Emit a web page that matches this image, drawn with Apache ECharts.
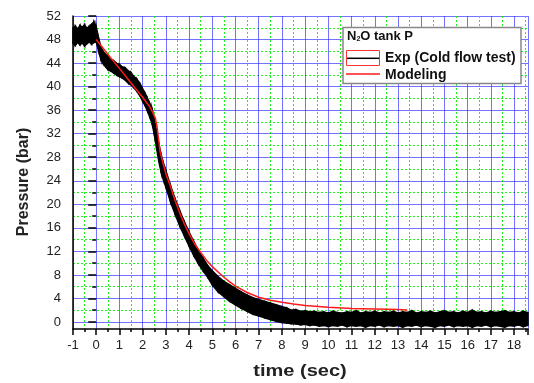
<!DOCTYPE html>
<html>
<head>
<meta charset="utf-8">
<script src="https://cdn.jsdelivr.net/npm/echarts@6/dist/echarts.min.js"></script>
<style>
  html, body { margin: 0; padding: 0; background: #fff; }
  #chart { width: 534px; height: 383px; }
</style>
</head>
<body>
<div id="chart"></div>
<script>
// experiment (cold flow test): noisy trace read as a lower / upper envelope
const expTime = [
  -1, -0.9, -0.8, -0.7, -0.6, -0.5, -0.4, -0.3, -0.2, -0.1, 0,
  0.1, 0.2, 0.3, 0.4, 0.5, 0.6, 0.75, 0.9, 1.0, 1.1, 1.25, 1.4, 1.5, 1.6, 1.75, 1.9,
  2.0, 2.1, 2.2, 2.3, 2.4, 2.5, 2.6, 2.7, 2.8, 2.9, 3.0, 3.2, 3.4, 3.6, 3.8,
  4.0, 4.2, 4.4, 4.6, 4.8, 5.0, 5.25, 5.5, 5.75, 6.0, 6.25, 6.5, 6.75, 7.0, 7.25, 7.5, 7.75, 8.0,
  8.2, 8.4, 8.6, 8.8, 9.0, 9.2, 9.4, 9.6, 9.8, 10.0, 10.2, 10.4, 10.6, 10.8,
  11.0, 11.2, 11.4, 11.6, 11.8, 12.0, 12.2, 12.4, 12.6, 12.8, 13.0, 13.2, 13.4, 13.6, 13.8,
  14.0, 14.2, 14.4, 14.6, 14.8, 15.0, 15.2, 15.4, 15.6, 15.8, 16.0, 16.2, 16.4, 16.6, 16.8,
  17.0, 17.2, 17.4, 17.6, 17.8, 18.0, 18.2, 18.4, 18.6
]
const expHigh = [
  50.0, 50.3, 49.8, 50.4, 50.1, 50.5, 49.9, 50.3, 50.6, 51.0, 50.2,
  48.3, 46.8, 46.0, 45.5, 45.2, 44.6, 44.4, 43.9, 43.8, 43.4, 43.2, 42.6, 42.4, 41.8, 41.3, 40.4,
  39.6, 38.9, 38.1, 37.2, 36.3, 34.6, 32.5, 30.2, 28.4, 26.9, 25.7, 23.2, 20.9, 18.9, 17.0,
  15.3, 13.7, 12.1, 10.9, 9.6, 8.7, 7.7, 6.9, 6.3, 5.7, 5.1, 4.6, 4.1, 3.8, 3.5, 3.2, 2.9, 2.6,
  2.4, 2.0, 2.1, 1.8, 1.9, 1.7, 1.8, 1.6, 1.7, 1.5, 1.8, 1.6, 1.5, 1.7,
  1.6, 1.9, 1.5, 1.7, 1.6, 1.8, 1.5, 1.7, 1.6, 1.8, 1.5, 1.7, 1.6, 1.9, 1.5,
  1.7, 1.6, 1.8, 1.5, 1.7, 1.9, 1.6, 1.7, 1.5, 1.8, 1.6, 2.0, 1.6, 1.7, 1.5,
  1.8, 1.6, 1.7, 1.9, 1.6, 1.7, 1.5, 1.8, 1.6
]
const expLow = [
  47.3, 47.0, 47.5, 47.1, 47.4, 46.9, 47.3, 47.6, 47.2, 47.5, 47.6,
  46.1, 44.6, 43.9, 43.4, 42.9, 42.7, 42.3, 41.9, 41.7, 41.5, 41.1, 40.5, 40.3, 39.9, 39.2, 38.3,
  37.5, 36.8, 35.9, 34.9, 33.8, 31.9, 29.5, 27.2, 25.4, 24.1, 22.9, 20.4, 18.3, 16.3, 14.6,
  12.9, 11.3, 9.9, 8.7, 7.6, 6.3, 5.1, 4.3, 3.5, 2.9, 2.3, 1.8, 1.3, 1.0, 0.7, 0.4, 0.1, -0.1,
  -0.2, -0.3, -0.35, -0.5, -0.4, -0.6, -0.5, -0.7, -0.6, -0.8, -0.6, -0.7, -0.5, -0.8,
  -0.6, -0.7, -0.6, -0.9, -0.6, -0.7, -0.5, -0.8, -0.6, -0.7, -0.6, -0.9, -0.6, -0.7, -0.5,
  -0.8, -0.6, -0.7, -0.9, -0.6, -0.7, -0.5, -0.8, -0.6, -0.7, -0.6, -0.9, -0.6, -0.7, -0.5,
  -0.8, -0.6, -0.7, -0.9, -0.6, -0.7, -0.5, -0.8, -0.6
]

// model
const modelTime = [0, 0.5, 1.0, 1.5, 2.0, 2.3, 2.45, 2.55, 2.62, 2.68, 2.75, 2.85, 3.0, 3.2, 3.4, 3.6, 3.8,
  4.0, 4.25, 4.5, 4.75, 5.0, 5.25, 5.5, 5.75, 6.0, 6.5, 7.0, 7.5, 8.0, 8.5, 9.0, 10, 11, 12, 13, 13.4]
const modelP = [48, 45.5, 43.1, 40.6, 38.2, 36.6, 35.5, 34.6, 33.2, 31.3, 29.0, 27.4, 25.2, 23.0, 20.6, 18.5, 16.6,
  15.0, 13.2, 11.8, 10.5, 9.4, 8.5, 7.6, 6.8, 6.1, 5.0, 4.2, 3.7, 3.35, 3.05, 2.8, 2.5, 2.3, 2.2, 2.1, 2.05]

const xMin = -1
const xMax = 18.6
const yMin = -1.2
const yMax = 52

const chart = echarts.init(document.getElementById('chart'))

// one row per band segment: [t, low, high, tNext, lowNext, highNext]
const bandRows = []
for (let i = 0; i < expTime.length - 1; i++) {
  bandRows.push([expTime[i], expLow[i], expHigh[i], expTime[i + 1], expLow[i + 1], expHigh[i + 1]])
}
const modelData = modelTime.map((t, i) => [t, modelP[i]])

const labelFont = { color: '#222', fontSize: 13, fontFamily: 'Liberation Sans, Arial, sans-serif' }
const blue = 'rgba(40, 40, 255, 0.65)'
const green = '#22ee22'
const black = { color: '#000', width: 1.5 }
const legendFont = 'bold 14px "Liberation Sans", Arial, sans-serif'
const titleFont = 'bold 16px "Liberation Sans", Arial, sans-serif'

chart.setOption({
  animation: false,
  // grid 0 holds the data (y from -1.2), grid 1 only carries the y ticks / grid lines from 0
  grid: [
    { left: 73, right: 6, top: 16, bottom: 54 },
    { left: 73, right: 6, top: 16, bottom: 61 }
  ],
  xAxis: [
    {
      type: 'value',
      gridIndex: 0,
      min: xMin,
      max: xMax,
      interval: 1,
      axisLine: { onZero: false, lineStyle: black },
      axisTick: { length: 6, lineStyle: black },
      minorTick: { show: true, splitNumber: 2, length: 3, lineStyle: black },
      axisLabel: Object.assign({ margin: 10, showMaxLabel: false }, labelFont),
      splitLine: { show: true, lineStyle: { color: blue, width: 1 } },
      minorSplitLine: { show: true, lineStyle: { color: green, width: 1, type: [2, 2] } }
    },
    {
      type: 'value',
      gridIndex: 1,
      min: xMin,
      max: xMax,
      show: false
    }
  ],
  yAxis: [
    {
      type: 'value',
      gridIndex: 0,
      min: yMin,
      max: yMax,
      axisLine: { show: true, onZero: false, lineStyle: black },
      axisTick: { show: false },
      axisLabel: { show: false },
      splitLine: { show: false }
    },
    {
      type: 'value',
      gridIndex: 1,
      min: 0,
      max: yMax,
      interval: 4,
      axisLine: { show: false },
      axisTick: { show: true, length: 8, lineStyle: black },
      minorTick: { show: true, splitNumber: 2, length: 4, lineStyle: black },
      axisLabel: Object.assign({ margin: 12 }, labelFont),
      splitLine: { show: true, lineStyle: { color: blue, width: 1 } },
      minorSplitLine: { show: true, lineStyle: { color: green, width: 1, type: [2, 2] } }
    }
  ],
  series: [
    {
      name: 'Exp (Cold flow test)',
      type: 'custom',
      xAxisIndex: 0,
      yAxisIndex: 0,
      data: bandRows,
      encode: { x: [0, 3], y: [1, 2, 4, 5] },
      renderItem: function (params, api) {
        const a = api.coord([api.value(0), api.value(1)])
        const b = api.coord([api.value(0), api.value(2)])
        const c = api.coord([api.value(3), api.value(5)])
        const d = api.coord([api.value(3), api.value(4)])
        return {
          type: 'polygon',
          shape: { points: [a, b, c, d] },
          style: { fill: '#000', stroke: '#000', lineWidth: 1.5 }
        }
      },
      z: 2
    },
    {
      name: 'Modeling',
      type: 'line',
      xAxisIndex: 0,
      yAxisIndex: 0,
      data: modelData,
      showSymbol: false,
      lineStyle: { color: '#ff1a1a', width: 1.5 },
      z: 3
    }
  ],
  graphic: [
    {
      type: 'text',
      rotation: Math.PI / 2,
      x: 24, y: 182,
      style: {
        text: 'Pressure (bar)',
        fill: '#222',
        font: titleFont,
        align: 'center',
        verticalAlign: 'middle'
      }
    },
    {
      type: 'text',
      x: 300, y: 372,
      scaleX: 1.25,
      style: {
        text: 'time (sec)',
        fill: '#222',
        font: titleFont,
        align: 'center',
        verticalAlign: 'middle'
      }
    },
    // legend box
    {
      type: 'rect',
      z: 100,
      shape: { x: 343, y: 27.5, width: 178, height: 56 },
      style: { fill: '#fff', stroke: '#888', lineWidth: 1.5 }
    },
    {
      type: 'text',
      z: 101,
      x: 347, y: 36,
      style: {
        text: '{a|N}{s|2}{a|O tank P}',
        verticalAlign: 'middle',
        rich: {
          a: { fontSize: 13, fontWeight: 'bold', fontFamily: 'Liberation Sans', fill: '#111' },
          s: { fontSize: 7, fontWeight: 'bold', fontFamily: 'Liberation Sans', fill: '#111', padding: [7, 0, 0, 0] }
        }
      }
    },
    {
      type: 'rect',
      z: 101,
      shape: { x: 346.5, y: 50.5, width: 33, height: 15 },
      style: { fill: '#fff', stroke: '#ff3333', lineWidth: 1 }
    },
    {
      type: 'line',
      z: 102,
      shape: { x1: 347, y1: 58.3, x2: 379, y2: 58.3 },
      style: { stroke: '#000', lineWidth: 1.5 }
    },
    {
      type: 'text',
      z: 101,
      x: 385, y: 58.3,
      style: { text: 'Exp (Cold flow test)', fill: '#111', font: legendFont, verticalAlign: 'middle' }
    },
    {
      type: 'line',
      z: 101,
      shape: { x1: 346, y1: 74, x2: 380, y2: 74 },
      style: { stroke: '#ff1a1a', lineWidth: 1.5 }
    },
    {
      type: 'text',
      z: 101,
      x: 385, y: 75,
      style: { text: 'Modeling', fill: '#111', font: legendFont, verticalAlign: 'middle' }
    }
  ]
})
</script>
</body>
</html>
